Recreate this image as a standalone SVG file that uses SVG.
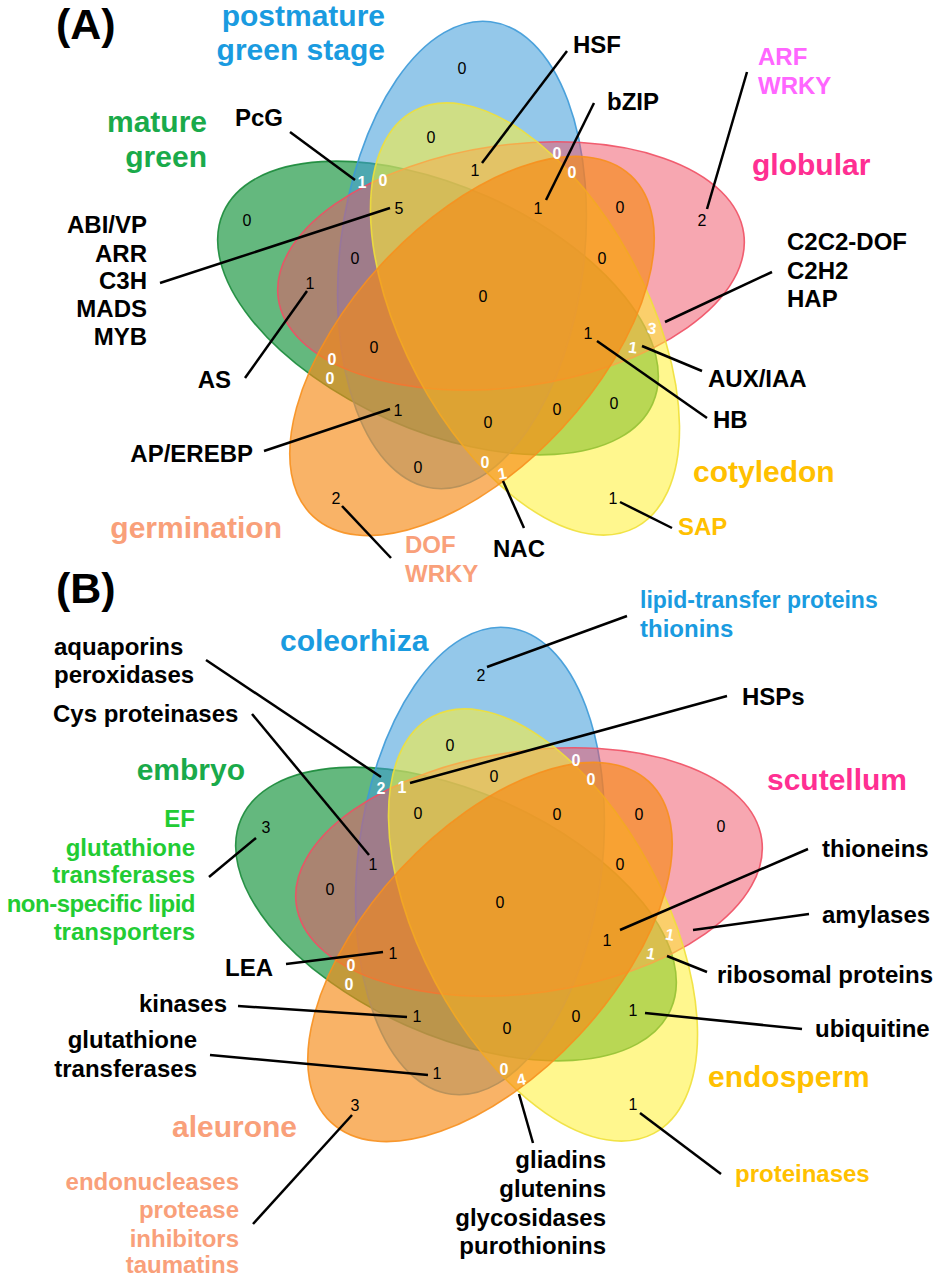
<svg xmlns="http://www.w3.org/2000/svg" width="934" height="1277" viewBox="0 0 934 1277">
<style>
text{font-family:"Liberation Sans",Arial,sans-serif}
.t{font-size:24px;font-weight:bold;fill:#000}
.c{font-size:30px;font-weight:bold}
.n{font-size:16px;fill:#000;text-anchor:middle}
.w{font-size:16px;font-weight:bold;fill:#fff;text-anchor:middle}
.h{font-size:43px;font-weight:bold;fill:#000}
.e{text-anchor:end}
.gr{fill:#1a9641;fill-opacity:.68;stroke:#1a8a3a;stroke-width:1.6;stroke-opacity:.9}
.bl{fill:#3d9ad8;fill-opacity:.55;stroke:#3d9ad8;stroke-width:1.6;stroke-opacity:.9}
.pk{fill:#f05064;fill-opacity:.5;stroke:#f05064;stroke-width:1.6;stroke-opacity:.9}
.ye{fill:#fff032;fill-opacity:.55;stroke:#f0e03a;stroke-width:1.6;stroke-opacity:.9}
.or{fill:#f68a16;fill-opacity:.65;stroke:#f7901e;stroke-width:1.6;stroke-opacity:.9}
.ln line{stroke:#000;stroke-width:2.5}
.cb{fill:#1a9be0}.cg{fill:#1aaa4a}.cl{fill:#22cc33}.cm{fill:#ff2f92}.cv{fill:#ff66ff}.cy{fill:#ffc000}.cs{fill:#f9a07a}
</style>
<rect width="934" height="1277" fill="#fff"/>
<g id="vennA">
<g id="A-mature-green"><ellipse class="gr" cx="438" cy="308" rx="235" ry="122" transform="rotate(24 438 308)"/></g>
<g id="A-postmature"><ellipse class="bl" cx="462" cy="255" rx="235" ry="122" transform="rotate(-83 462 255)"/></g>
<g id="A-globular"><ellipse class="pk" cx="511" cy="266" rx="235" ry="121" transform="rotate(-8 511 266)"/></g>
<g id="A-cotyledon"><ellipse class="ye" cx="525" cy="319" rx="236" ry="122" transform="rotate(62 525 319)"/></g>
<g id="A-germination"><ellipse class="or" cx="472" cy="346" rx="233" ry="122" transform="rotate(-47 472 346)"/></g>
</g>
<g id="vennB">
<g id="B-embryo"><ellipse class="gr" cx="456" cy="914" rx="235" ry="122" transform="rotate(24 456 914)"/></g>
<g id="B-coleorhiza"><ellipse class="bl" cx="480" cy="861" rx="235" ry="122" transform="rotate(-83 480 861)"/></g>
<g id="B-scutellum"><ellipse class="pk" cx="529" cy="872" rx="235" ry="121" transform="rotate(-8 529 872)"/></g>
<g id="B-endosperm"><ellipse class="ye" cx="543" cy="925" rx="236" ry="122" transform="rotate(62 543 925)"/></g>
<g id="B-aleurone"><ellipse class="or" cx="490" cy="952" rx="233" ry="122" transform="rotate(-47 490 952)"/></g>
</g>
<g id="connectors" class="ln">
<line x1="290" y1="132" x2="355" y2="180"/>
<line x1="160" y1="283" x2="390" y2="208"/>
<line x1="245" y1="378" x2="307" y2="291"/>
<line x1="264" y1="451" x2="390" y2="409"/>
<line x1="342" y1="506" x2="391" y2="558"/>
<line x1="503" y1="481" x2="524" y2="528"/>
<line x1="620" y1="502" x2="672" y2="528"/>
<line x1="597" y1="341" x2="707" y2="418"/>
<line x1="642" y1="346" x2="702" y2="371"/>
<line x1="665" y1="322" x2="772" y2="272"/>
<line x1="707" y1="209" x2="747" y2="72"/>
<line x1="482" y1="163" x2="567" y2="51"/>
<line x1="546" y1="200" x2="594" y2="103"/>
<line x1="206" y1="660" x2="381" y2="777"/>
<line x1="252" y1="714" x2="369" y2="855"/>
<line x1="209" y1="877" x2="256" y2="838"/>
<line x1="487" y1="667" x2="627" y2="616"/>
<line x1="410" y1="783" x2="727" y2="696"/>
<line x1="620" y1="930" x2="808" y2="849"/>
<line x1="693" y1="930" x2="809" y2="914"/>
<line x1="667" y1="956" x2="707" y2="972"/>
<line x1="645" y1="1013" x2="802" y2="1029"/>
<line x1="640" y1="1113" x2="721" y2="1174"/>
<line x1="519" y1="1094" x2="533" y2="1143"/>
<line x1="286" y1="964" x2="383" y2="952"/>
<line x1="238" y1="1006" x2="407" y2="1017"/>
<line x1="210" y1="1055" x2="428" y2="1075"/>
<line x1="352" y1="1115" x2="253" y2="1224"/>
</g>
<g id="numbersA">
<text class="n" x="462" y="74">0</text>
<text class="n" x="431" y="143">0</text>
<text class="n" x="475" y="176">1</text>
<text class="w" x="557" y="159">0</text>
<text class="w" x="572" y="178">0</text>
<text class="w" x="362" y="188">1</text>
<text class="w" x="383" y="186">0</text>
<text class="n" x="399" y="214">5</text>
<text class="n" x="538" y="214">1</text>
<text class="n" x="620" y="213">0</text>
<text class="n" x="702" y="226">2</text>
<text class="n" x="247" y="226">0</text>
<text class="n" x="355" y="264">0</text>
<text class="n" x="602" y="264">0</text>
<text class="n" x="310" y="289">1</text>
<text class="n" x="483" y="302">0</text>
<text class="n" x="588" y="339">1</text>
<text class="w" x="652" y="334" transform="rotate(8 652 328)">3</text>
<text class="w" x="633" y="353" transform="rotate(8 633 347)">1</text>
<text class="n" x="374" y="353">0</text>
<text class="w" x="332" y="365">0</text>
<text class="w" x="330" y="384">0</text>
<text class="n" x="614" y="409">0</text>
<text class="n" x="398" y="416">1</text>
<text class="n" x="557" y="415">0</text>
<text class="n" x="488" y="428">0</text>
<text class="n" x="418" y="473">0</text>
<text class="w" x="485" y="468">0</text>
<text class="w" x="502" y="479" transform="rotate(-10 502 473)">1</text>
<text class="n" x="613" y="504">1</text>
<text class="n" x="336" y="504">2</text>
</g>
<g id="numbersB">
<text class="n" x="481" y="681">2</text>
<text class="n" x="450" y="751">0</text>
<text class="n" x="494" y="782">0</text>
<text class="w" x="576" y="766">0</text>
<text class="w" x="591" y="785">0</text>
<text class="w" x="381" y="794">2</text>
<text class="w" x="402" y="793">1</text>
<text class="n" x="418" y="819">0</text>
<text class="n" x="557" y="820">0</text>
<text class="n" x="639" y="820">0</text>
<text class="n" x="721" y="832">0</text>
<text class="n" x="266" y="833">3</text>
<text class="n" x="373" y="870">1</text>
<text class="n" x="620" y="870">0</text>
<text class="n" x="330" y="895">0</text>
<text class="n" x="500" y="908">0</text>
<text class="n" x="607" y="946">1</text>
<text class="w" x="670" y="940" transform="rotate(10 670 934)">1</text>
<text class="w" x="651" y="959" transform="rotate(10 651 953)">1</text>
<text class="n" x="393" y="959">1</text>
<text class="w" x="351" y="971">0</text>
<text class="w" x="349" y="990">0</text>
<text class="n" x="633" y="1016">1</text>
<text class="n" x="417" y="1022">1</text>
<text class="n" x="576" y="1022">0</text>
<text class="n" x="507" y="1034">0</text>
<text class="n" x="437" y="1079">1</text>
<text class="w" x="504" y="1075">0</text>
<text class="w" x="521" y="1085" transform="rotate(-12 521 1079)">4</text>
<text class="n" x="633" y="1110">1</text>
<text class="n" x="355" y="1111">3</text>
</g>
<g id="labelsA">
<text class="h" x="56" y="39">(A)</text>
<text class="c cb e" x="385" y="26">postmature</text>
<text class="c cb e" x="385" y="60">green stage</text>
<text class="c cg e" x="207" y="132">mature</text>
<text class="c cg e" x="207" y="167">green</text>
<text class="t" x="235" y="126">PcG</text>
<text class="t e" x="147" y="233">ABI/VP</text>
<text class="t e" x="147" y="262">ARR</text>
<text class="t e" x="147" y="289">C3H</text>
<text class="t e" x="147" y="317">MADS</text>
<text class="t e" x="147" y="345">MYB</text>
<text class="t e" x="231" y="388">AS</text>
<text class="t e" x="253" y="462">AP/EREBP</text>
<text class="c cs e" x="282" y="538">germination</text>
<text class="t cs" x="405" y="553">DOF</text>
<text class="t cs" x="405" y="582">WRKY</text>
<text class="t" x="493" y="557">NAC</text>
<text class="t cy" x="678" y="535">SAP</text>
<text class="c cy" x="693" y="482">cotyledon</text>
<text class="t" x="713" y="428">HB</text>
<text class="t" x="708" y="387">AUX/IAA</text>
<text class="t" x="787" y="250">C2C2-DOF</text>
<text class="t" x="787" y="279">C2H2</text>
<text class="t" x="787" y="307">HAP</text>
<text class="c cm" x="752" y="175">globular</text>
<text class="t cv" x="758" y="65">ARF</text>
<text class="t cv" x="758" y="94">WRKY</text>
<text class="t" x="573" y="53">HSF</text>
<text class="t" x="607" y="110">bZIP</text>
</g>
<g id="labelsB">
<text class="h" x="56" y="603">(B)</text>
<text class="c cb" x="280" y="651">coleorhiza</text>
<text class="t" x="54" y="655">aquaporins</text>
<text class="t" x="54" y="683">peroxidases</text>
<text class="t" x="53" y="722">Cys proteinases</text>
<text class="c cg e" x="245" y="780">embryo</text>
<text class="t cl e" x="195" y="827">EF</text>
<text class="t cl e" x="195" y="856">glutathione</text>
<text class="t cl e" x="195" y="883">transferases</text>
<text class="t cl e" x="195" y="912" letter-spacing="-0.5">non-specific lipid</text>
<text class="t cl e" x="195" y="940">transporters</text>
<text class="t e" x="273" y="976">LEA</text>
<text class="t e" x="227" y="1012">kinases</text>
<text class="t e" x="197" y="1048">glutathione</text>
<text class="t e" x="197" y="1077">transferases</text>
<text class="c cs e" x="297" y="1137">aleurone</text>
<text class="t cs e" x="239" y="1190">endonucleases</text>
<text class="t cs e" x="239" y="1218">protease</text>
<text class="t cs e" x="239" y="1247">inhibitors</text>
<text class="t cs e" x="239" y="1273">taumatins</text>
<text class="t cb" x="640" y="608" style="font-size:23px">lipid-transfer proteins</text>
<text class="t cb" x="640" y="637">thionins</text>
<text class="t" x="742" y="705">HSPs</text>
<text class="c cm" x="767" y="790">scutellum</text>
<text class="t" x="822" y="857">thioneins</text>
<text class="t" x="822" y="923">amylases</text>
<text class="t" x="717" y="983">ribosomal proteins</text>
<text class="t" x="815" y="1037">ubiquitine</text>
<text class="c cy" x="708" y="1087">endosperm</text>
<text class="t cy" x="735" y="1182">proteinases</text>
<text class="t e" x="606" y="1168">gliadins</text>
<text class="t e" x="606" y="1197">glutenins</text>
<text class="t e" x="606" y="1226">glycosidases</text>
<text class="t e" x="606" y="1254">purothionins</text>
</g>
</svg>
